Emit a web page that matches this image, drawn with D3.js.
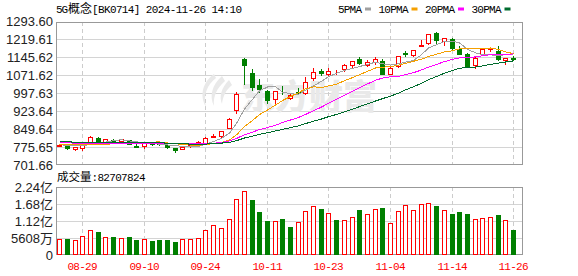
<!DOCTYPE html>
<html>
<head>
<meta charset="utf-8">
<script src="https://cdn.jsdelivr.net/npm/d3@7"></script>
<style>
body { margin: 0; background: #fff; }
svg { display: block; }
</style>
</head>
<body>
<div id="chart"></div>
<script>
// 5G概念 daily K-line, 2024-08-26 .. 2024-11-26
const dates = ["08-26","08-27","08-28","08-29","08-30","09-02","09-03","09-04","09-05","09-06",
	"09-09","09-10","09-11","09-12","09-13","09-18","09-19","09-20","09-23","09-24",
	"09-25","09-26","09-27","09-30","10-08","10-09","10-10","10-11","10-14","10-15",
	"10-16","10-17","10-18","10-21","10-22","10-23","10-24","10-25","10-28","10-29",
	"10-30","10-31","11-01","11-04","11-05","11-06","11-07","11-08","11-11","11-12",
	"11-13","11-14","11-15","11-18","11-19","11-20","11-21","11-22","11-25","11-26"]

const opens = [781,784,766,770,798,814,797,804,800,804, 778,781,796,791,783,770,767,778,788,790,
	819,820,856,928,1139,1081,1033,1007,975,1000, 980,1003,998,1061,1088,1078,1086,1098,1115,1137,
	1115,1126,1130,1078,1109,1162,1155,1194,1203,1246, 1213,1221,1181,1160,1115,1159,1180,1173,1136,1145]
const highs = [788,786,775,786,820,817,810,808,810,806, 787,793,798,794,785,772,778,786,802,816,
	830,843,895,1004,1141,1097,1055,1009,1008,1029, 997,1018,1063,1102,1096,1103,1095,1117,1132,1146,
	1133,1148,1137,1105,1152,1170,1176,1217,1243,1250, 1226,1225,1192,1163,1146,1183,1190,1192,1142,1150]
const lows = [779,767,764,762,796,795,796,800,797,789, 776,773,786,786,772,755,766,776,787,788,
	817,818,854,918,1035,1013,1002,956,955,996, 973,997,995,1054,1072,1072,1079,1089,1105,1119,
	1112,1119,1076,1075,1106,1150,1153,1193,1200,1206, 1196,1180,1159,1104,1100,1155,1170,1136,1118,1134]
const closes = [786,773,774,784,816,796,809,802,807,790, 777,792,790,788,774,764,776,783,797,815,
	822,842,890,996,1113,1022,1017,969,1005,998, 992,999,1044,1085,1082,1089,1087,1113,1130,1121,
	1128,1139,1079,1102,1150,1159,1175,1197,1241,1217, 1224,1183,1161,1110,1144,1182,1184,1138,1141,1140]

// volume, in millions of shares (last one is the live 82707824)
const volumes = [51.8,51.8,48.5,61.7,81.5,75.9,58.4,58.4,55.1,59.4, 49.5,51.8,46.2,49.5,49.5,42.9,51.8,51.8,55.1,81.5,
	98.0,88.1,117.8,183.8,210.2,181.4,141.9,112.2,111.2,118.8, 92.4,108.9,145.2,160.7,151.8,138.6,115.5,114.5,124.4,148.5,
	135.3,151.8,155.1,105.6,145.2,164.0,148.5,168.3,171.6,161.7, 148.5,135.3,141.9,135.3,118.8,122.1,125.4,132.0,115.5,82.707824]

// moving averages as drawn
const ma5 = [785,783,780,781,786.6,788.6,795.8,801.4,806,800.8, 797,793.6,791.2,787.4,784.2,781.6,778.4,777,778.8,787,
	798.6,811.8,833.2,873,932.6,972.6,1007.6,1023.4,1025.2,1002.2, 996.2,992.6,1010,1028,1047,1066,1080,1092,1100.2,1108,
	1115.8,1126.2,1119.4,1113.8,1119.6,1125.8,1133,1156.6,1184.4,1197.8, 1210.8,1212.4,1205.2,1179,1164.4,1156,1156.2,1151.6,1157.8,1157]
const ma10 = [788,787,786,785,785,786,787,789,791,793.7, 792.8,794.7,796.3,796.7,792.5,789.3,786,784.1,783.1,785.6,
	790.1,795.1,805.1,825.9,859.8,885.6,909.7,928.3,949.1,967.4, 984.4,1000.1,1015.5,1024.4,1021.3,1028,1035,1049.4,1061.9,1074.2,
	1087.8,1101.8,1105.3,1107,1113.8,1120.8,1129.6,1138,1149.1,1158.7, 1168.3,1172.7,1180.9,1181.7,1181.1,1183.4,1184.3,1178.4,1168.4,1160.7]
const ma20 = [793,793,792,792,792,792,792,792,792,792, 791,791,791,791,790,790,789,789,789,789.7,
	791.5,794.9,800.7,811.3,826.2,837.5,847.9,856.2,866.1,876.5, 887.3,897.6,910.3,925.2,940.6,956.8,972.4,988.9,1005.5,1020.8,
	1036.1,1051,1060.4,1065.7,1067.6,1074.4,1082.3,1093.7,1105.5,1116.5, 1128.1,1137.3,1143.1,1144.4,1147.5,1152.1,1157,1158.2,1158.8,1159.7]
const ma30 = [797,797,796,796,796,796,796,796,796,795, 795,794,794,793,792,790,789,788,788,788,
	790,792,795,802,813,821,828,835,842,848.9, 855.8,863.3,872.3,882.3,891.2,901,910.2,920.6,931.4,942.4,
	954.1,965.7,975.3,985.8,998.3,1011.5,1024.8,1038.6,1053.4,1066.8, 1080.2,1091.5,1100.6,1104.4,1105.4,1110.7,1116.3,1121.9,1126.5,1131.2]

const priceTicks = [701.66, 775.65, 849.64, 923.64, 997.63, 1071.62, 1145.62, 1219.61, 1293.60]
const volTicks = [0, 56.08, 112.16, 168.24, 224.32]
const volTickLabels = ["0", "5608万", "1.12亿", "1.68亿", "2.24亿"]
const labelDates = ["08-29", "09-10", "09-24", "10-11", "10-23", "11-04", "11-14", "11-26"]
const maNames = ["5PMA", "10PMA", "20PMA", "30PMA"]
const maColors = ["#a0a0a0", "#f5a000", "#ff00ff", "#006b2d"]

const W = 578, H = 276
const MAIN = {LEFT: 56, RIGHT: 522.5, TOP: 21.5, BOTTOM: 165}
const VOL = {TOP: 187, BOTTOM: 255}
const RED = "#ff0000", GREEN = "#007f00"
const MONO = "'Liberation Mono', monospace"
const SANS = "'Liberation Sans', Arial, 'Noto Sans CJK SC', sans-serif"
const CJK = "'Noto Sans CJK SC', sans-serif"

const svg = d3.select("#chart").append("svg")
	.attr("width", W)
	.attr("height", H)

const x = d3.scaleBand()
	.domain(dates)
	.range([MAIN.LEFT, 517.4])
	.padding(0)
const cx = d => Math.floor(x(d) + x.bandwidth() / 2)

const y = d3.scaleLinear()
	.domain([priceTicks[0], priceTicks[priceTicks.length - 1]])
	.range([MAIN.BOTTOM, MAIN.TOP])
const yv = d3.scaleLinear()
	.domain([0, volTicks[volTicks.length - 1]])
	.range([VOL.BOTTOM, VOL.TOP])
const px = v => Math.round(v)

// grid
const grid = svg.append("g").attr("shape-rendering", "crispEdges")
grid.selectAll(".hp").data(priceTicks.slice(1, -1)).enter().append("line")
	.attr("x1", MAIN.LEFT).attr("x2", MAIN.RIGHT)
	.attr("y1", d => px(y(d)) + 0.5).attr("y2", d => px(y(d)) + 0.5)
	.attr("stroke", "#d4d4d4")
grid.selectAll(".hv").data(volTicks.slice(1, -1)).enter().append("line")
	.attr("x1", MAIN.LEFT).attr("x2", MAIN.RIGHT)
	.attr("y1", d => px(yv(d)) + 0.5).attr("y2", d => px(yv(d)) + 0.5)
	.attr("stroke", "#d4d4d4")
labelDates.forEach(d => {
	[[MAIN.TOP, MAIN.BOTTOM], [VOL.TOP, VOL.BOTTOM]].forEach(([a, b]) => {
		grid.append("line")
			.attr("x1", cx(d) + 0.5).attr("x2", cx(d) + 0.5)
			.attr("y1", a).attr("y2", b)
			.attr("stroke", "#cccccc")
			.attr("stroke-dasharray", "4,3")
	})
})

// watermark
const wm = svg.append("g").attr("fill", "#e9e9e9")
wm.append("path")
	.attr("d", "M214,74 C203,82 199,95 206,107 C203,95 207,85 216,78 Z M222,76 C212,85 209,96 214,106 C213,96 217,88 225,81 Z M229,80 C221,88 219,97 222,104 C223,96 226,90 232,85 Z")
wm.append("text")
	.attr("x", 241).attr("y", 109)
	.attr("font-family", CJK)
	.attr("font-weight", 900)
	.attr("font-size", 34)
	.attr("textLength", 136)
	.text("东方财富")

// borders
svg.append("g").attr("shape-rendering", "crispEdges")
	.selectAll("rect").data([[MAIN.TOP, MAIN.BOTTOM], [VOL.TOP, VOL.BOTTOM]]).enter().append("rect")
	.attr("x", MAIN.LEFT + 0.5).attr("y", d => d[0] + 0.5)
	.attr("width", MAIN.RIGHT - MAIN.LEFT - 1).attr("height", d => d[1] - d[0] - 1)
	.attr("fill", "none").attr("stroke", "#999")

// candles
const idx = d3.range(dates.length)
const up = i => closes[i] >= opens[i]
const candles = svg.append("g").attr("shape-rendering", "crispEdges")
	.selectAll("g").data(idx).enter().append("g")
candles.append("line")
	.attr("x1", i => cx(dates[i]) + 0.5).attr("x2", i => cx(dates[i]) + 0.5)
	.attr("y1", i => px(y(highs[i]))).attr("y2", i => px(y(lows[i])) + 1)
	.attr("stroke", i => up(i) ? RED : GREEN)
candles.append("rect")
	.attr("x", i => cx(dates[i]) - 1.5)
	.attr("y", i => px(y(Math.max(opens[i], closes[i]))) + 0.5)
	.attr("width", 4)
	.attr("height", i => Math.max(px(y(Math.min(opens[i], closes[i]))) - px(y(Math.max(opens[i], closes[i]))), 0))
	.attr("fill", i => up(i) ? "#fff" : GREEN)
	.attr("stroke", i => up(i) ? RED : GREEN)

// moving averages
const line = d3.line().x((v, i) => cx(dates[i]) + 0.5).y(v => y(v))
;[ma5, ma10, ma20, ma30].forEach((arr, k) => {
	svg.append("path")
		.datum(arr)
		.attr("d", line)
		.attr("fill", "none")
		.attr("stroke", maColors[k])
		.attr("stroke-width", 1)
		.attr("shape-rendering", "crispEdges")
})

// volume bars: colour by close vs previous close
const volUp = i => i === 0 ? up(0) : closes[i] >= closes[i - 1]
svg.append("g").attr("shape-rendering", "crispEdges")
	.selectAll("rect").data(idx).enter().append("rect")
	.attr("x", i => cx(dates[i]) - 1.5)
	.attr("y", i => px(yv(volumes[i])) + 0.5)
	.attr("width", 4)
	.attr("height", i => VOL.BOTTOM - 1 - px(yv(volumes[i])))
	.attr("fill", i => volUp(i) ? "#fff" : GREEN)
	.attr("stroke", i => volUp(i) ? RED : GREEN)

// y labels
svg.append("g").selectAll("text").data(priceTicks).enter().append("text")
	.attr("x", 53).attr("y", d => y(d))
	.attr("dy", "0.36em")
	.attr("text-anchor", "end")
	.attr("font-family", SANS).attr("font-size", 13)
	.attr("fill", "#222")
	.text(d => d.toFixed(2))
svg.append("g").selectAll("text").data(volTicks).enter().append("text")
	.attr("x", 53).attr("y", d => yv(d))
	.attr("dy", "0.36em")
	.attr("text-anchor", "end")
	.attr("font-family", SANS).attr("font-size", 13)
	.attr("fill", "#222")
	.text((d, i) => volTickLabels[i])

// x labels
svg.append("g").selectAll("text").data(labelDates).enter().append("text")
	.attr("x", d => cx(d) + 0.5).attr("y", 270)
	.attr("text-anchor", "middle")
	.attr("font-family", MONO).attr("font-size", 11)
	.attr("textLength", 30)
	.attr("fill", RED)
	.text(d => d)

// title
function mono(txt, x0, y0) {
	svg.append("text").attr("x", x0).attr("y", y0)
		.attr("font-family", MONO).attr("font-size", 11)
		.attr("textLength", txt.length * 6)
		.attr("fill", "#000")
		.text(txt)
	return x0 + txt.length * 6
}
let tx = mono("5G", 56, 13)
svg.append("text").attr("x", tx).attr("y", 13)
	.attr("font-family", CJK).attr("font-size", 12).attr("fill", "#000")
	.text("概念")
mono("[BK0714] 2024-11-26 14:10", tx + 24, 13)

// legend
let lx = 338
maNames.forEach((name, k) => {
	lx = mono(name, lx, 13)
	svg.append("rect")
		.attr("x", lx + 3).attr("y", 7.5)
		.attr("width", 6).attr("height", 3)
		.attr("fill", maColors[k])
	lx += 3 + 6 + 7.5
})

// volume caption
svg.append("text").attr("x", 57).attr("y", 181)
	.attr("font-family", CJK).attr("font-size", 11.5).attr("fill", "#000")
	.text("成交量")
mono(":" + Math.round(volumes[volumes.length - 1] * 1e6), 91.5, 181)
</script>
</body>
</html>
